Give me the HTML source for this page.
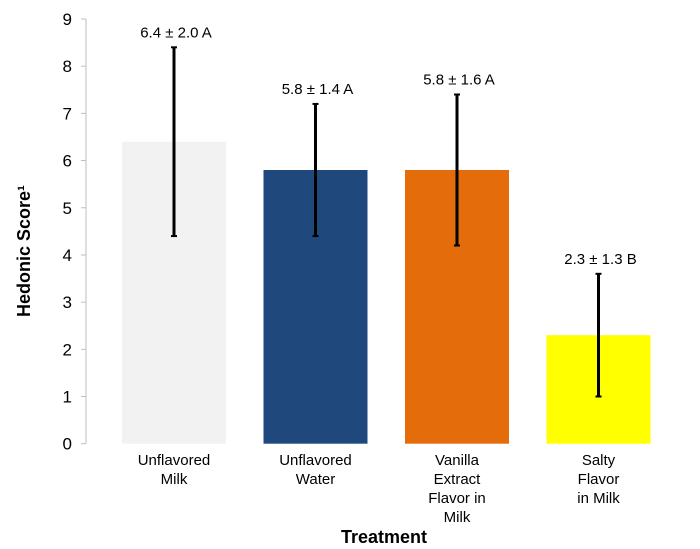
<!DOCTYPE html>
<html><head><meta charset="utf-8"><style>body{margin:0;background:#fff}svg{display:block;font-family:"Liberation Sans",Arial,sans-serif}</style></head>
<body>
<svg id="chart" width="700" height="549" xmlns="http://www.w3.org/2000/svg"></svg>
<script>
const categories = [["Unflavored","Milk"],["Unflavored","Water"],["Vanilla","Extract","Flavor in","Milk"],["Salty","Flavor","in Milk"]];
const means = [6.4, 5.8, 5.8, 2.3];
const sds = [2.0, 1.4, 1.6, 1.3];
const groups = ["A","A","A","B"];
const colors = ["#f2f2f2","#1f497d","#e46c0a","#ffff00"];
const yTicks = [0,1,2,3,4,5,6,7,8,9];
const NS="http://www.w3.org/2000/svg", svg=document.getElementById('chart');
const y0=443.7, unit=47.19, axisX=86;
const y=v=>y0-v*unit;
const cx=i=>174+141.5*i;
function mk(t,a){const e=document.createElementNS(NS,t);for(const k in a)e.setAttribute(k,a[k]);svg.appendChild(e);return e;}
let ax=mk('line',{x1:axisX,x2:axisX,y1:y(9),y2:y(0),stroke:'#bfbfbf','stroke-width':1});


yTicks.forEach(t=>{
  let tk=mk('line',{x1:axisX-5,x2:axisX,y1:y(t),y2:y(t),stroke:'#bfbfbf'});
  
  
  let tl=mk('text',{x:72,y:y(t)+6,'text-anchor':'end','font-size':17,fill:'#000'});
  tl.textContent=t;
  
  
});
means.forEach((m,i)=>{
  let b=mk('rect',{x:cx(i)-52,y:y(m),width:104,height:y(0)-y(m),fill:colors[i]});
  
  
  let hi=m+sds[i], lo=m-sds[i];
  let e=mk('line',{x1:cx(i),x2:cx(i),y1:y(hi),y2:y(lo),stroke:'#000','stroke-width':3});
  
  
  [hi,lo].forEach(v=>{let c=mk('line',{x1:cx(i)-3,x2:cx(i)+3,y1:y(v),y2:y(v),stroke:'#000','stroke-width':2});
    
    });
  let l=mk('text',{x:cx(i)+2,y:y(hi)-10,'text-anchor':'middle','font-size':15,fill:'#000'});
  l.textContent=m.toFixed(1)+' \u00b1 '+sds[i].toFixed(1)+' '+groups[i];
  
  
  categories[i].forEach((s,j)=>{
    let c=mk('text',{x:cx(i),y:465+j*19,'text-anchor':'middle','font-size':15,fill:'#000'});
    c.textContent=s;
    
    
  });
});
let xt=mk('text',{x:384,y:543,'text-anchor':'middle','font-size':18,'font-weight':'bold'});
xt.textContent='Treatment';


let yt=mk('text',{x:0,y:0,'text-anchor':'middle','font-size':18,'font-weight':'bold',transform:'translate(30,251) rotate(-90)'});
yt.textContent='Hedonic Score\u00b9';


</script>
</body></html>
